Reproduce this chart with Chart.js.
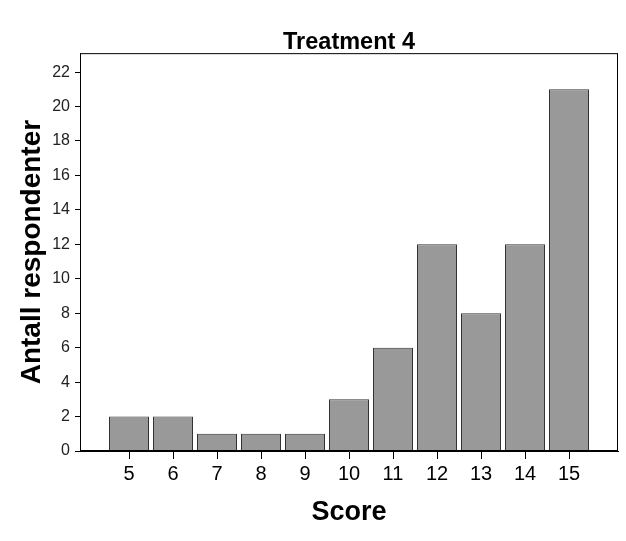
<!DOCTYPE html>
<html>
<head>
<meta charset="utf-8">
<script src="https://cdn.jsdelivr.net/npm/chart.js@4"></script>
<style>
  html, body { margin: 0; padding: 0; background: #fff; }
  #wrap { width: 626px; height: 541px; }
</style>
</head>
<body>
<div id="wrap"><canvas id="barChart" width="626" height="541"></canvas></div>
<script>
const scores = [5, 6, 7, 8, 9, 10, 11, 12, 13, 14, 15];
const counts = [2, 2, 1, 1, 1, 3, 6, 12, 8, 12, 21];
const yTicks = [0, 2, 4, 6, 8, 10, 12, 14, 16, 18, 20, 22];

const ctx = document.getElementById('barChart');

// thin black frame round the plot area
const frame = {
    id: 'frame',
    afterDraw(chart) {
        const a = chart.chartArea;
        const c = chart.ctx;
        c.save();
        c.strokeStyle = '#000';
        c.lineWidth = 1;
        c.strokeRect(a.left + 0.5, a.top + 0.5, a.right - a.left - 1, a.bottom - a.top - 1);
        c.restore();
    }
};

new Chart(ctx, {
    type: 'bar',
    data: {
        datasets: [{
            data: scores.map((s, i) => ({x: s, y: counts[i]})),
            backgroundColor: '#999999',
            borderColor: '#333333',
            borderWidth: 1,
            barPercentage: 40 / 44,
            categoryPercentage: 1
        }]
    },
    options: {
        responsive: false,
        animation: false,
        layout: { padding: { left: 0, right: 8, top: 0, bottom: 0 } },
        plugins: {
            legend: { display: false },
            tooltip: { enabled: false },
            title: {
                display: true,
                fullSize: false,
                text: 'Treatment 4',
                color: '#000',
                font: { family: 'Liberation Sans', size: 23.5, weight: 'bold', lineHeight: 0.9 },
                padding: { top: 32, bottom: 0 }
            }
        },
        scales: {
            x: {
                type: 'linear',
                offset: false,
                min: 5 - 49 / 44,
                max: 15 + 49 / 44,
                afterBuildTicks: (s) => { s.ticks = scores.map(v => ({value: v})); },
                afterFit: (s) => { s.height = 90; },
                grid: { offset: false, drawOnChartArea: false, drawTicks: true, tickLength: 8, color: '#000' },
                border: { display: true, color: '#000', width: 1 },
                ticks: {
                    color: '#000',
                    padding: 3,
                    maxRotation: 0,
                    autoSkip: false,
                    font: { family: 'Liberation Sans', size: 20 }
                },
                title: {
                    display: true,
                    text: 'Score',
                    color: '#000',
                    font: { family: 'Liberation Sans', size: 27, weight: 'bold' },
                    padding: { top: 0, bottom: 12 }
                }
            },
            y: {
                min: 0,
                max: 23.1,
                afterBuildTicks: (s) => { s.ticks = yTicks.map(v => ({value: v})); },
                afterFit: (s) => { s.width = 80; },
                grid: { drawOnChartArea: false, drawTicks: true, tickLength: 5, color: '#000' },
                border: { display: true, color: '#000', width: 1 },
                ticks: {
                    color: '#222',
                    padding: 5,
                    font: { family: 'Liberation Sans', size: 16 }
                },
                title: {
                    display: true,
                    text: 'Antall respondenter',
                    color: '#000',
                    font: { family: 'Liberation Sans', size: 28, weight: 'bold' },
                    padding: { top: 15, bottom: 0 }
                }
            }
        }
    },
    plugins: [frame]
});
</script>
</body>
</html>
